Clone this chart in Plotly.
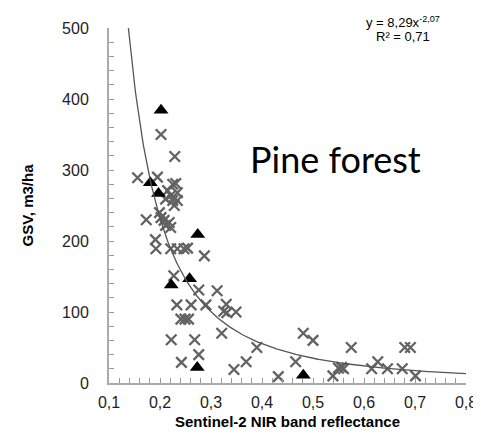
import numpy as np
import plotly.graph_objects as go

# Field plots (gray crosses)
cross_x = [0.156, 0.195, 0.202, 0.229, 0.225, 0.231, 0.215, 0.234, 0.221, 0.211,
           0.225, 0.234, 0.228, 0.173, 0.199, 0.202, 0.208, 0.218, 0.211, 0.221,
           0.191, 0.192, 0.221, 0.234, 0.247, 0.254, 0.287, 0.227, 0.276, 0.312,
           0.233, 0.261, 0.290, 0.330, 0.325, 0.331, 0.349, 0.241, 0.249, 0.256,
           0.321, 0.222, 0.268, 0.390, 0.276, 0.242, 0.369, 0.345, 0.432, 0.466,
           0.481, 0.500, 0.539, 0.550, 0.556, 0.560, 0.575, 0.615, 0.627, 0.646,
           0.675, 0.680, 0.691, 0.701]
cross_y = [289, 290, 350, 319, 280, 281, 271, 268, 264, 259,
           257, 257, 250, 230, 240, 233, 229, 226, 222, 219,
           202, 189, 189, 189, 189, 190, 179, 151, 131, 130,
           110, 110, 110, 111, 101, 99, 100, 90, 90, 90,
           70, 61, 61, 50, 40, 29, 30, 19, 9, 30,
           70, 60, 10, 21, 22, 20, 50, 20, 30, 20,
           20, 50, 50, 10]

# Validation plots (black triangles)
tri_x = [0.202, 0.181, 0.197, 0.274, 0.258, 0.222, 0.273, 0.481]
tri_y = [384, 282, 267, 209, 147, 138, 22, 11]

# Power trend y = a * x^b
coef_a = 8.29
coef_b = -2.07

x_range = [0.1, 0.8]
y_range = [0, 500]

x_start = (y_range[1] / coef_a) ** (1 / coef_b)
curve_x = np.linspace(x_start, x_range[1], 400)
curve_y = coef_a * curve_x ** coef_b

W, H = 481, 441
ml, mr, mt, mb = 101, 20, 18, 66
pw, ph = W - ml - mr, H - mt - mb


def px_to_paper(px, py):
    return (px - ml) / pw, (H - mb - py) / ph


fig = go.Figure()
fig.add_trace(go.Scatter(x=cross_x, y=cross_y, mode="markers",
                         marker=dict(symbol="x-thin-open", size=10.5, color="#626262",
                                     line=dict(color="#626262", width=2.3)),
                         showlegend=False, cliponaxis=False))
fig.add_trace(go.Scatter(x=tri_x, y=tri_y, mode="markers",
                         marker=dict(symbol="triangle-up", size=13, color="black"),
                         showlegend=False, cliponaxis=False))
fig.add_trace(go.Scatter(x=curve_x, y=curve_y, mode="lines",
                         line=dict(color="#555555", width=1.3),
                         showlegend=False, xaxis="x2", yaxis="y2"))

fig.add_annotation(x=0.5436, y=315, xref="x", yref="y", text="Pine forest",
                   showarrow=False, xanchor="center", yanchor="middle",
                   font=dict(family="Lato, Open Sans, sans-serif", size=36, color="black"))
ex, ey = px_to_paper(397, 12)
fig.add_annotation(x=ex, y=ey, xref="paper", yref="paper",
                   text="y = 8,29x<sup>-2,07</sup>", showarrow=False,
                   xanchor="center", yanchor="middle",
                   font=dict(family="Liberation Sans, Arial", size=13, color="black"))
rx, ry = px_to_paper(397, 27)
fig.add_annotation(x=rx, y=ry, xref="paper", yref="paper",
                   text="R² = 0,71", showarrow=False,
                   xanchor="center", yanchor="middle",
                   font=dict(family="Liberation Sans, Arial", size=13, color="black"))

tick_style = dict(showgrid=False, zeroline=False, showline=True, linecolor="#aaaaaa",
                  linewidth=2, ticks="inside", ticklen=5, tickcolor="#999999", tickwidth=1,
                  showticklabels=False)
label_style = dict(showgrid=False, zeroline=False, showline=False, ticks="outside",
                   tickcolor="rgba(0,0,0,0)", tickfont=dict(size=16, color="#222222"))

fig.update_layout(
    width=W, height=H,
    margin=dict(l=ml, r=mr, t=mt, b=mb),
    paper_bgcolor="white", plot_bgcolor="white",
    separators=",.",
    font=dict(family="Liberation Sans, Arial", color="#222222", size=16),
    xaxis=dict(range=x_range, tickmode="linear", tick0=0.1, dtick=0.02, **tick_style),
    yaxis=dict(range=y_range, tickmode="linear", tick0=0, dtick=20, **tick_style),
    xaxis2=dict(range=x_range, overlaying="x", anchor="y2", side="bottom",
                tickmode="linear", tick0=0.1, dtick=0.1, tickformat=".1f", ticklen=5,
                title=dict(text="<b>Sentinel-2 NIR band reflectance</b>",
                           font=dict(size=15, color="black"), standoff=6),
                **label_style),
    yaxis2=dict(range=y_range, overlaying="y", anchor="x2", side="left",
                tickmode="linear", tick0=0, dtick=100, ticklen=16,
                title=dict(text="<b>GSV, m3/ha</b>", font=dict(size=15, color="black"),
                           standoff=24),
                **label_style),
)

fig.write_html("out.html")
